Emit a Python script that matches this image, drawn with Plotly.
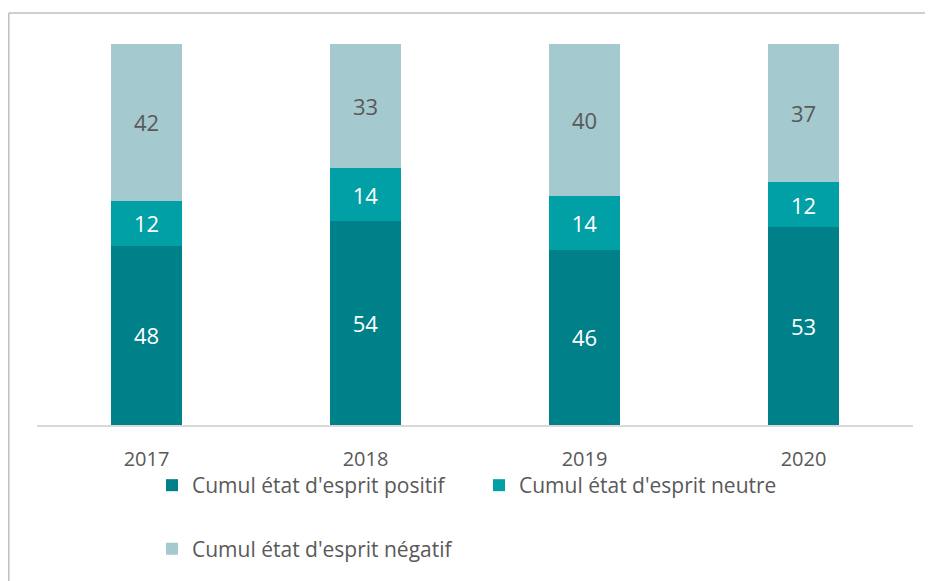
import plotly.graph_objects as go

years = ["2017", "2018", "2019", "2020"]
positif = [48, 54, 46, 53]
neutre = [12, 14, 14, 12]
negatif = [42, 33, 40, 37]

names = ["Cumul état d'esprit positif", "Cumul état d'esprit neutre", "Cumul état d'esprit négatif"]
colors = ["#00818A", "#00A0A6", "#A4C9CE"]
text_colors = ["#FFFFFF", "#FFFFFF", "#595959"]
legends = ["legend", "legend", "legend2"]

FONT = "Open Sans, Lato, sans-serif"

fig = go.Figure()
for vals, name, col, tc, lg in zip([positif, neutre, negatif], names, colors, text_colors, legends):
    fig.add_trace(go.Bar(
        x=years, y=vals, name=name, marker=dict(color=col, line=dict(width=0)),
        text=vals, texttemplate="%{text}", textposition="inside",
        insidetextanchor="middle", textangle=0,
        textfont=dict(color=tc, size=22, family=FONT),
        legend=lg, hoverinfo="skip",
    ))

# page has an 8px body margin; work in figure coordinates
OFF = 8
W, H = 933 - OFF, 581 - OFF
L, R, T, B = 37 - OFF, 913 - OFF, 44 - OFF, 428 - OFF
pw, ph = R - L, B - T

def px(x):
    return (x - OFF - L) / pw

def py(y):
    return (B - (y - OFF)) / ph

border = "#BFBFBF"
legfont = dict(size=21, color="#595959", family=FONT)
fig.update_layout(
    width=W, height=H,
    barmode="stack", barnorm="percent", bargap=0.68,
    margin=dict(l=L, r=W - R, t=T, b=H - B, pad=0),
    paper_bgcolor="white", plot_bgcolor="white",
    font=dict(family=FONT, color="#595959", size=21),
    uniformtext=dict(minsize=10, mode="show"),
    xaxis=dict(showgrid=False, showline=True, linecolor="#D9D9D9", linewidth=1.5,
               ticks="", tickfont=dict(size=20, color="#595959", family=FONT),
               ticklabelstandoff=15, fixedrange=True),
    yaxis=dict(visible=False, range=[0, 100], fixedrange=True),
    legend=dict(orientation="h", x=px(152), xanchor="left", y=py(489), yanchor="middle",
                font=legfont, traceorder="normal", entrywidth=282,
                itemwidth=30, bgcolor="rgba(0,0,0,0)"),
    legend2=dict(orientation="h", x=px(152), xanchor="left", y=py(553), yanchor="middle",
                 font=legfont, itemwidth=30, bgcolor="rgba(0,0,0,0)"),
    shapes=[
        dict(type="line", xref="paper", yref="paper", x0=px(8.75), x1=px(940), y0=py(12.75), y1=py(12.75),
             line=dict(color=border, width=1.5)),
        dict(type="line", xref="paper", yref="paper", x0=px(8.75), x1=px(8.75), y0=py(12.75), y1=py(590),
             line=dict(color=border, width=1.5)),
    ],
)

fig.write_html("out.html")
